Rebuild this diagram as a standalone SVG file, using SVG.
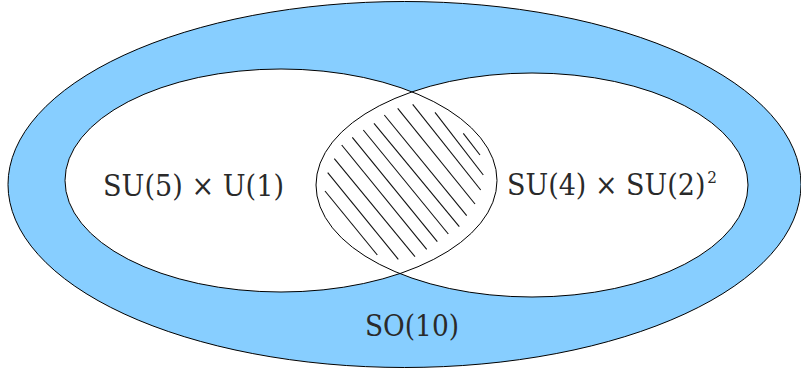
<svg xmlns="http://www.w3.org/2000/svg" width="801" height="369" viewBox="0 0 801 369">
<style>
.lbl{font-family:'DejaVu Serif','Noto Serif',serif;fill:#2a2a2a;font-size:30px}
.sup{font-size:17px}
.edge{fill:none;stroke:#000;stroke-width:1}
.hatch line{stroke:#111;stroke-width:1.1}
</style>
<rect width="801" height="369" fill="#fff"/>
<g id="so10">
<ellipse cx="404.5" cy="184.5" rx="396.5" ry="183" fill="#87CEFF" stroke="#000" stroke-width="1"/>
<text class="lbl" x="365" y="336" textLength="94" lengthAdjust="spacingAndGlyphs">SO(10)</text>
</g>
<g id="fills">
<ellipse cx="281" cy="180.5" rx="216" ry="111.5" fill="#fff"/>
<ellipse cx="532" cy="185" rx="216" ry="112" fill="#fff"/>
</g>
<g id="su5u1">
<ellipse class="edge" cx="281" cy="180.5" rx="216" ry="111.5"/>
<text class="lbl" x="103" y="196" textLength="181" lengthAdjust="spacingAndGlyphs">SU(5) × U(1)</text>
</g>
<g id="su4su2">
<ellipse class="edge" cx="532" cy="185" rx="216" ry="112" stroke-width="1.4"/>
<text class="lbl" x="507" y="195" textLength="210" lengthAdjust="spacingAndGlyphs">SU(4) × SU(2)<tspan class="sup" dx="2" dy="-12">2</tspan></text>
</g>
<g id="intersection" class="hatch">
<line x1="325" y1="191" x2="377.3" y2="255"/>
<line x1="327.7" y1="172.7" x2="398.3" y2="259.3"/>
<line x1="334.3" y1="158.7" x2="415" y2="256.7"/>
<line x1="341.7" y1="145" x2="426.7" y2="249.3"/>
<line x1="352.3" y1="137.3" x2="437.3" y2="241.7"/>
<line x1="363.3" y1="130" x2="448.3" y2="234"/>
<line x1="374" y1="123.3" x2="459.3" y2="226.7"/>
<line x1="384.3" y1="115" x2="466.7" y2="215.7"/>
<line x1="397.7" y1="108.3" x2="475" y2="204"/>
<line x1="412.7" y1="104.3" x2="480.7" y2="190"/>
<line x1="435" y1="112.3" x2="483.3" y2="175"/>
<line x1="463.3" y1="133.3" x2="480" y2="155"/>
</g>
</svg>
